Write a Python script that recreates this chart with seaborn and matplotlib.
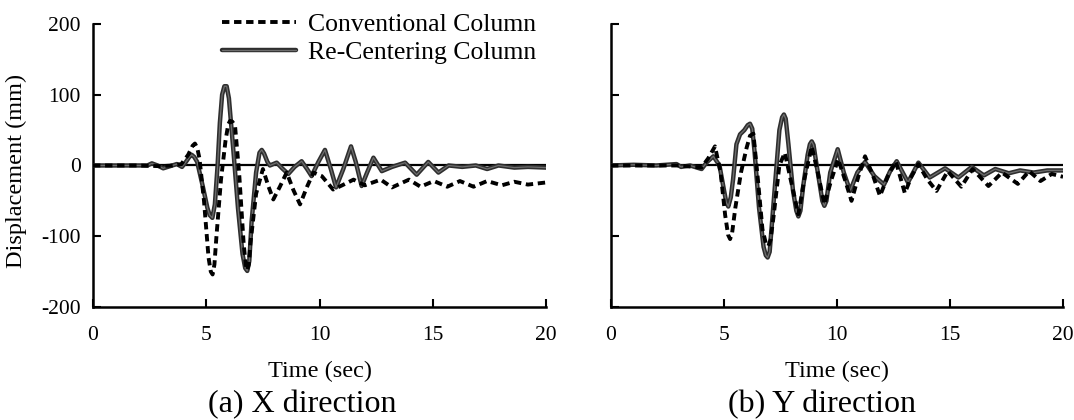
import matplotlib
matplotlib.use("Agg")
import matplotlib.pyplot as plt
import matplotlib.patheffects as pe
import seaborn as sns
import pandas as pd

# X direction, conventional column (dashed)
tx_conv = [0, 2.0, 3.0, 3.5, 3.9, 4.2, 4.4, 4.5, 4.6, 4.7, 4.9, 5.1, 5.2, 5.28, 5.36, 5.45,
           5.65, 5.85, 5.97, 6.05, 6.15, 6.27, 6.45, 6.65, 6.74, 6.8, 6.88, 6.95, 7.2, 7.5,
           7.75, 7.96, 8.25, 8.55, 8.85, 9.14, 9.45, 9.73, 10.1, 10.6, 11.0, 11.5, 12.0,
           12.7, 13.2, 13.95, 14.46, 15.05, 15.64, 16.2, 16.8, 17.4, 18.05, 18.6, 19.2, 20.0]
dx_conv = [0, 0, -1, 0, 2, 15, 28, 31, 25, 10, -50, -130, -150, -154, -140, -100,
           -20, 35, 58, 63, 62, 56, -10, -110, -140, -148, -140, -110, -40, -5,
           -30, -48, -30, -10, -35, -55, -30, -10, -15, -34, -28, -20, -28,
           -20, -31, -20, -30, -22, -30, -22, -30, -22, -28, -23, -27, -24]

# X direction, re-centering column (solid)
tx_rc = [0, 1.0, 2.0, 2.4, 2.6, 2.85, 3.1, 3.4, 3.7, 3.93, 4.1, 4.25, 4.36, 4.47, 4.6, 4.85,
         5.05, 5.15, 5.27, 5.38, 5.5, 5.6, 5.7, 5.8, 5.9, 6.0, 6.2, 6.4, 6.6, 6.72, 6.81,
         6.9, 7.0, 7.2, 7.35, 7.45, 7.55, 7.7, 7.81, 8.11, 8.35, 8.62, 8.9, 9.21, 9.45,
         9.65, 9.95, 10.24, 10.5, 10.73, 11.05, 11.39, 11.6, 11.86, 12.1, 12.38, 12.75,
         13.2, 13.78, 14.29, 14.8, 15.25, 15.7, 16.3, 16.9, 17.4, 17.9, 18.6, 19.2, 20.0]
dx_rc = [0, 0, 0, 0, 3, 0, -4, -1, 2, -2, 5, 12, 15, 12, 5, -30,
         -60, -70, -74, -55, 0, 60, 100, 112, 112, 95, 20, -60, -125, -145, -149,
         -135, -80, -10, 18, 22, 17, 5, 0, 4, -4, -12, -2, 6, -5,
         -15, 5, 22, -5, -31, -5, 27, 5, -29, -10, 11, -8,
         -2, 4, -13, 5, -10, 0, -2, 0, -5, 0, -3, -2, -3]

# Y direction, conventional column (dashed)
ty_conv = [0, 2.0, 3.0, 4.0, 4.3, 4.6, 4.85, 5.05, 5.18, 5.27, 5.36, 5.5, 5.75, 6.0, 6.15,
           6.3, 6.5, 6.7, 6.85, 6.96, 7.06, 7.2, 7.45, 7.69, 7.95, 8.29, 8.55, 8.88, 9.15,
           9.44, 9.75, 10.05, 10.35, 10.64, 10.95, 11.24, 11.6, 11.9, 12.25, 12.6, 13.0,
           13.3, 13.6, 14.0, 14.4, 14.9, 15.5, 16.0, 16.7, 17.3, 18.0, 18.5, 19.0, 19.5, 20.0]
dy_conv = [0, 0, 0, -3, 10, 27, -10, -70, -98, -104, -95, -60, -10, 25, 42,
           45, -20, -90, -110, -114, -105, -70, 0, 18, -20, -69, -20, 27, -10,
           -55, -20, 9, -20, -50, -15, 13, -15, -43, -15, 6, -39,
           -15, 2, -20, -36, -8, -30, -5, -29, -10, -26, -8, -22, -12, -16]

# Y direction, re-centering column (solid)
ty_rc = [0, 1.0, 2.0, 2.9, 3.1, 3.5, 4.01, 4.25, 4.53, 4.8, 5.0, 5.1, 5.19, 5.3, 5.4, 5.55,
         5.71, 5.9, 6.05, 6.15, 6.25, 6.35, 6.55, 6.75, 6.85, 6.93, 7.02, 7.1, 7.3, 7.45,
         7.57, 7.65, 7.73, 7.85, 8.05, 8.2, 8.29, 8.38, 8.5, 8.7, 8.8, 8.88, 8.96, 9.1,
         9.35, 9.44, 9.53, 9.7, 10.03, 10.3, 10.58, 10.9, 11.24, 11.65, 12.08, 12.35,
         12.64, 13.14, 13.6, 14.1, 14.78, 15.37, 15.96, 16.5, 17.0, 17.6, 18.1, 18.7,
         19.3, 20.0]
dy_rc = [0, 1, 0, 2, -2, 0, -5, 5, 13, 0, -35, -52, -58, -45, -20, 30,
         44, 50, 57, 59, 52, 20, -60, -115, -127, -130, -122, -90, -10, 50,
         68, 72, 66, 30, -35, -64, -72, -64, -30, 15, 30, 34, 29, 0,
         -50, -57, -50, -10, 23, -10, -36, -10, 5, -15, -27, -8,
         6, -24, 4, -17, -4, -17, -2, -14, -5, -11, -7, -10,
         -7, -7]

labels = ["Conventional Column", "Re-Centering Column"]
captions = ["(a) X direction", "(b) Y direction"]
caption_x = [302, 822]
xticks = [0, 5, 10, 15, 20]
yticks = [-200, -100, 0, 100, 200]

sns.set_style("ticks")
plt.rcParams["font.family"] = ["Liberation Serif", "DejaVu Serif"]
plt.rcParams["axes.unicode_minus"] = False
plt.rcParams["text.color"] = "black"
plt.rcParams["axes.labelcolor"] = "black"
plt.rcParams["xtick.color"] = "black"
plt.rcParams["ytick.color"] = "black"

fig = plt.figure(figsize=(10.74, 4.2), dpi=100)
ax_a = fig.add_axes([0.0866, 0.269, 0.4218, 0.674])
ax_b = fig.add_axes([0.5689, 0.269, 0.4209, 0.674])

panels = [
    (ax_a, tx_conv, dx_conv, tx_rc, dx_rc),
    (ax_b, ty_conv, dy_conv, ty_rc, dy_rc),
]

for i, (ax, tc, dc, tr, dr) in enumerate(panels):
    conv = pd.DataFrame({"t": tc, "d": dc})
    rc = pd.DataFrame({"t": tr, "d": dr})
    ax.axhline(0, color="black", lw=1.6, zorder=1.5)
    sns.lineplot(data=rc, x="t", y="d", ax=ax, sort=False, estimator=None,
                 color="#6e6e6e", lw=0.9, label=labels[1], zorder=3,
                 solid_joinstyle="round",
                 path_effects=[pe.Stroke(linewidth=3.2, foreground="#2e2e2e"), pe.Normal()])
    sns.lineplot(data=conv, x="t", y="d", ax=ax, sort=False, estimator=None,
                 color="black", lw=2.8, linestyle=(0, (1.9, 1.2)), label=labels[0], zorder=4)

    ax.set_xlim(0, 20)
    ax.set_ylim(-200, 200)
    ax.set_xticks(xticks)
    ax.set_yticks(yticks)
    sns.despine(ax=ax)
    for s in ["left", "bottom"]:
        ax.spines[s].set_linewidth(1.8)
        ax.spines[s].set_color("black")
    ax.tick_params(direction="in", length=5.5, width=1.5, colors="black", labelsize=15.5)
    ax.tick_params(axis="x", pad=14)
    ax.tick_params(axis="y", pad=9)
    ax.set_xlabel("Time (sec)", fontsize=17.5)
    ax.xaxis.set_label_coords(0.5, -0.19)
    ax.set_ylabel("")
    fig.text(caption_x[i] / 1074, 0.019, captions[i],
             ha="center", va="baseline", fontsize=23)

    if i == 0:
        h, l = ax.get_legend_handles_labels()
        order = [l.index(labels[0]), l.index(labels[1])]
        ax.legend([h[k] for k in order], [l[k] for k in order], loc="upper right",
                  bbox_to_anchor=(0.978, 1.04), frameon=False, fontsize=18.5,
                  borderpad=0, borderaxespad=0, handlelength=2.9, handletextpad=0.45,
                  labelspacing=0.22)
    else:
        ax.get_legend().remove()
        ax.tick_params(axis="y", labelleft=False)

ax_a.set_ylabel("Displacement (mm)", fontsize=17.5)
ax_a.yaxis.set_label_coords(-0.146, 0.48)

fig.savefig("out.png", dpi=100)
